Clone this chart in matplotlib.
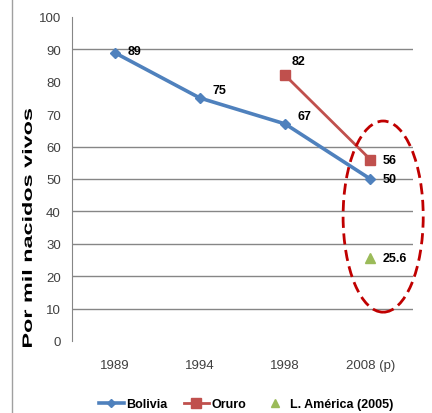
import matplotlib.pyplot as plt
from matplotlib.patches import Ellipse, PathPatch
from matplotlib.lines import Line2D
from matplotlib.textpath import TextPath
from matplotlib.font_manager import FontProperties
from matplotlib.transforms import Affine2D, IdentityTransform

plt.rcParams['font.family'] = ['Liberation Sans', 'DejaVu Sans']

# datos
years = ['1989', '1994', '1998', '2008 (p)']
bolivia = [89, 75, 67, 50]
oruro_x = [2, 3]
oruro = [82, 56]
lam_x = [3]
lam = [25.6]
grid_vals = [10, 20, 30, 40, 50, 60, 90]

fig = plt.figure(figsize=(4.32, 4.14), dpi=100)
ax = fig.add_axes([72 / 432, 72 / 414, 341 / 432, 324 / 414])

for g in grid_vals:
    ax.axhline(g, color='#868686', lw=1, zorder=0)

ax.plot(range(4), bolivia, color='#4F81BD', lw=2.6, marker='D', ms=5,
        label='Bolivia', zorder=3)
ax.plot(oruro_x, oruro, color='#C0504D', lw=2, marker='s', ms=7.5,
        label='Oruro', zorder=3)
ax.plot(lam_x, lam, ls='none', color='#9BBB59', marker='^', ms=7,
        label='L. América (2005)', zorder=3)

# etiquetas de datos
lbl = dict(fontsize=9, fontweight='bold', color='black')
offs_b = [(9, 1), (9, 6), (9, 6), (9, 0)]
for i, v in enumerate(bolivia):
    ax.annotate(str(v), (i, v), xytext=offs_b[i], textcoords='offset points',
                ha='left', va='center', **lbl)
ax.annotate('82', (2, 82), xytext=(5, 10), textcoords='offset points',
            ha='left', va='center', **lbl)
ax.annotate('56', (3, 56), xytext=(9, 0), textcoords='offset points',
            ha='left', va='center', **lbl)
ax.annotate('25.6', (3, 25.6), xytext=(9, 0), textcoords='offset points',
            ha='left', va='center', **lbl)

# elipse punteada
ell = Ellipse((3.15, 38.4), 0.94, 59, fill=False, ec='#C00000', lw=2,
              ls=(0, (4, 2)), clip_on=False, zorder=4)
ax.add_patch(ell)

ax.set_xlim(-0.5, 3.5)
ax.set_ylim(0, 100)
ax.set_xticks(range(4))
ax.set_xticklabels(years)
ax.set_yticks(range(0, 101, 10))
ax.tick_params(axis='both', colors='#404040', labelsize=9.5, length=0)
ax.tick_params(axis='y', pad=8)
ax.tick_params(axis='x', pad=13)
for s in ['top', 'right', 'bottom']:
    ax.spines[s].set_visible(False)
ax.spines['left'].set_color('#868686')

# titulo del eje y, estirado como en el original
tp = TextPath((0, 0), 'Por mil nacidos vivos', size=10,
              prop=FontProperties(family='Liberation Sans', weight='bold'))
bb = tp.get_extents()
sx = 238 / bb.width
sy = 10 / bb.height
tr = (Affine2D().translate(-bb.x0 - bb.width / 2, -bb.y0 - bb.height / 2)
      .scale(sx, sy).rotate_deg(90).translate(27, 414 - 229))
fig.add_artist(PathPatch(tp, transform=tr + IdentityTransform(),
                         fc='black', ec='none'))

fig.add_artist(Line2D([12 / 432, 12 / 432], [0, 1], color='#A0A0A0', lw=1))

ax.legend(loc='center', bbox_to_anchor=(0.51, -0.195), ncol=3, frameon=False,
          prop={'size': 9, 'weight': 'bold'}, handlelength=2.0,
          markerscale=0.9, columnspacing=1.3, handletextpad=0.2)

fig.savefig('out.png', dpi=100)
